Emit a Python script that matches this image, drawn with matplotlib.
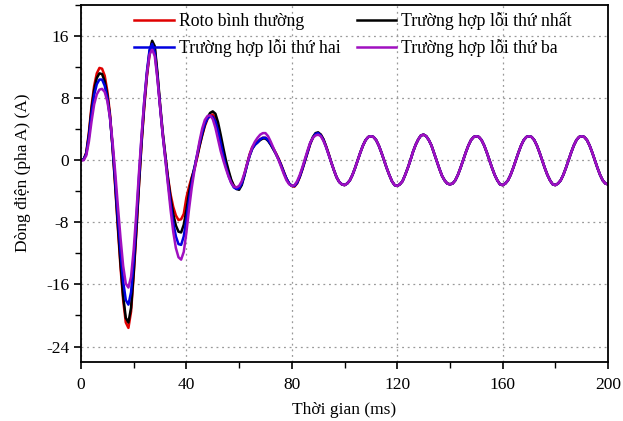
import numpy as np
import matplotlib
matplotlib.use("Agg")
import matplotlib.pyplot as plt
from matplotlib.ticker import MultipleLocator

plt.rcParams['font.family'] = ['Liberation Serif', 'DejaVu Serif']
plt.rcParams['font.size'] = 12
plt.rcParams['axes.unicode_minus'] = False

# thời gian lấy mẫu (ms): 0..95 riêng từng trường hợp, 96..200 chung (xác lập)
t_dau = list(range(0, 96))
t_cuoi = list(range(96, 201))

roto_binh_thuong = [
    0, 0.1, 1.0, 3.6, 7.0, 9.6, 11.2, 11.9, 11.8, 10.9,
    8.9, 6.0, 1.5, -3.5, -8.8, -13.8, -18.0, -20.9, -21.6, -19.5,
    -14.8, -9.3, -3.3, 2.2, 6.8, 10.7, 13.6, 15.2, 14.4, 11.0,
    7.0, 3.4, 0.5, -2.2, -4.4, -6.0, -7.1, -7.7, -7.6, -6.9,
    -4.8, -3.4, -2.2, -1.2, 0.2, 1.8, 3.2, 4.4, 5.3, 5.8,
    5.9, 5.4, 4.2, 2.5, 0.9, -0.4, -1.6, -2.6, -3.3, -3.6,
    -3.6, -3.0, -1.8, -0.5, 0.8, 1.7, 2.1, 2.4, 2.7, 2.9,
    2.9, 2.6, 2.1, 1.5, 0.9, 0.2, -0.6, -1.5, -2.4, -3.0,
    -3.3, -3.4, -3.0, -2.2, -1.2, -0.1, 1.0, 2.1, 2.9, 3.4,
    3.5, 3.3, 2.7, 1.8, 0.8, -0.3,
]

loi_thu_nhat = [
    0, 0.1, 0.9, 3.3, 6.6, 9.1, 10.6, 11.2, 11.1, 10.2,
    8.4, 5.7, 1.6, -3.2, -8.4, -13.3, -17.5, -20.3, -20.9, -19.0,
    -14.5, -9.0, -3.1, 2.4, 7.1, 11.0, 14.0, 15.4, 14.7, 11.3,
    7.3, 3.7, 0.7, -2.3, -4.9, -6.9, -8.4, -9.2, -9.3, -8.3,
    -6.4, -4.2, -2.4, -1.0, 0.4, 1.9, 3.3, 4.6, 5.5, 6.1,
    6.3, 6.0, 4.9, 3.3, 1.6, 0.0, -1.3, -2.5, -3.3, -3.7,
    -3.8, -3.2, -2.0, -0.6, 0.6, 1.5, 2.0, 2.3, 2.6, 2.8,
    2.8, 2.5, 2.0, 1.4, 0.8, 0.1, -0.7, -1.6, -2.4, -3.0,
    -3.3, -3.3, -2.9, -2.1, -1.1, 0.0, 1.1, 2.2, 3.0, 3.5,
    3.6, 3.3, 2.7, 1.8, 0.8, -0.3,
]

loi_thu_hai = [
    0, 0.1, 0.8, 3.0, 6.0, 8.4, 9.8, 10.4, 10.4, 9.6,
    8.0, 5.5, 1.8, -2.6, -7.4, -11.8, -15.6, -18.0, -18.6, -17.0,
    -13.0, -7.8, -2.2, 3.0, 7.6, 11.4, 14.2, 15.0, 13.9, 10.7,
    6.9, 3.3, 0.2, -2.8, -5.6, -8.0, -9.8, -10.8, -10.9, -9.8,
    -7.6, -5.1, -2.9, -1.1, 0.6, 2.2, 3.6, 4.7, 5.4, 5.7,
    5.6, 5.0, 3.8, 2.2, 0.6, -0.8, -2.0, -2.9, -3.5, -3.7,
    -3.6, -3.0, -1.9, -0.6, 0.6, 1.5, 2.0, 2.3, 2.7, 2.9,
    2.9, 2.6, 2.1, 1.5, 0.8, 0.1, -0.7, -1.6, -2.4, -3.0,
    -3.3, -3.3, -2.9, -2.1, -1.1, 0.0, 1.1, 2.2, 2.9, 3.4,
    3.5, 3.2, 2.6, 1.7, 0.7, -0.3,
]

loi_thu_ba = [
    0, 0.0, 0.6, 2.4, 5.0, 7.2, 8.5, 9.1, 9.2, 8.8,
    7.6, 5.5, 2.3, -1.6, -5.9, -10.0, -13.6, -15.9, -16.4, -15.0,
    -11.5, -6.8, -1.6, 3.3, 7.6, 11.1, 13.6, 14.3, 13.4, 10.5,
    6.9, 3.4, 0.1, -3.2, -6.4, -9.2, -11.3, -12.5, -12.8, -11.8,
    -9.3, -6.3, -3.6, -1.4, 0.6, 2.5, 4.1, 5.2, 5.7, 5.8,
    5.3, 4.2, 2.7, 1.2, 0.0, -1.1, -2.1, -2.9, -3.4, -3.5,
    -3.3, -2.7, -1.7, -0.5, 0.7, 1.7, 2.4, 2.9, 3.3, 3.5,
    3.5, 3.1, 2.4, 1.6, 0.8, 0.0, -0.9, -1.8, -2.6, -3.1,
    -3.3, -3.2, -2.7, -1.9, -0.9, 0.2, 1.3, 2.3, 2.9, 3.2,
    3.3, 3.1, 2.5, 1.7, 0.7, -0.3,
]

# đoạn xác lập chung của cả bốn trường hợp
xac_lap = [
    -1.3, -2.2, -2.8, -3.1,
    -3.2, -3.0, -2.6, -1.9, -1.0, 0.0, 1.0, 1.9, 2.6, 3.0,
    3.1, 3.0, 2.6, 1.9, 1.0, 0.0, -1.0, -1.9, -2.7, -3.2,
    -3.3, -3.1, -2.7, -1.9, -1.0, 0.0, 1.1, 2.0, 2.7, 3.2,
    3.3, 3.1, 2.6, 1.9, 0.9, -0.1, -1.1, -2.0, -2.6, -3.0,
    -3.1, -3.0, -2.6, -1.9, -1.0, 0.0, 1.0, 1.9, 2.6, 3.0,
    3.1, 3.0, 2.6, 1.9, 1.0, 0.0, -1.0, -1.9, -2.6, -3.1,
    -3.2, -3.0, -2.6, -1.9, -1.0, 0.0, 1.0, 1.9, 2.6, 3.0,
    3.1, 3.0, 2.6, 1.9, 1.0, 0.0, -1.0, -1.9, -2.6, -3.1,
    -3.2, -3.0, -2.6, -1.9, -1.0, 0.0, 1.0, 1.9, 2.6, 3.0,
    3.1, 3.0, 2.6, 1.9, 1.0, 0.0, -1.0, -1.9, -2.6, -3.0,
    -3.1,
]

nhan = ["Roto bình thường", "Trường hợp lỗi thứ nhất",
        "Trường hợp lỗi thứ hai", "Trường hợp lỗi thứ ba"]
mau = ["#e00000", "#000000", "#0000e0", "#a010c0"]
du_lieu = [roto_binh_thuong, loi_thu_nhat, loi_thu_hai, loi_thu_ba]

t = np.array(t_dau + t_cuoi)

fig = plt.figure(figsize=(6.23, 4.21), dpi=100)
ax = fig.add_axes([0.130, 0.140, 0.846, 0.848])

duong = []
for y, c, lb in zip(du_lieu, mau, nhan):
    l, = ax.plot(t, np.array(y + xac_lap), color=c, lw=1.8, label=lb)
    duong.append(l)

ax.set_xlim(0, 200)
ax.set_ylim(-26, 20)
ax.xaxis.set_major_locator(MultipleLocator(40))
ax.xaxis.set_minor_locator(MultipleLocator(20))
ax.yaxis.set_major_locator(MultipleLocator(8))
ax.yaxis.set_minor_locator(MultipleLocator(4))
ax.tick_params(which='major', direction='out', length=5, width=1.2, labelsize=12.5)
ax.tick_params(which='minor', direction='out', length=4, width=1.0)
ax.tick_params(axis='x', which='major', pad=6)
ax.grid(True, which='major', linestyle=(0, (1.5, 3)), color='#999999', lw=0.9)
for s in ax.spines.values():
    s.set_linewidth(1.3)

ax.set_xlabel("Thời gian (ms)", fontsize=12.5, labelpad=6)
ax.set_ylabel("Dòng điện (pha A) (A)", fontsize=12.5)
ax.yaxis.set_label_coords(-0.095, 0.53)

# thứ tự chú thích: cột 1 (đỏ, xanh), cột 2 (đen, tím)
thu_tu = [0, 2, 1, 3]
ax.legend([duong[i] for i in thu_tu], [nhan[i] for i in thu_tu],
          ncol=2, loc='upper left', bbox_to_anchor=(0.088, 1.0),
          frameon=False, fontsize=12.8, handlelength=2.2,
          handletextpad=0.3, columnspacing=0.9, labelspacing=0.5,
          borderaxespad=0.0)

fig.savefig("out.png", dpi=100)
